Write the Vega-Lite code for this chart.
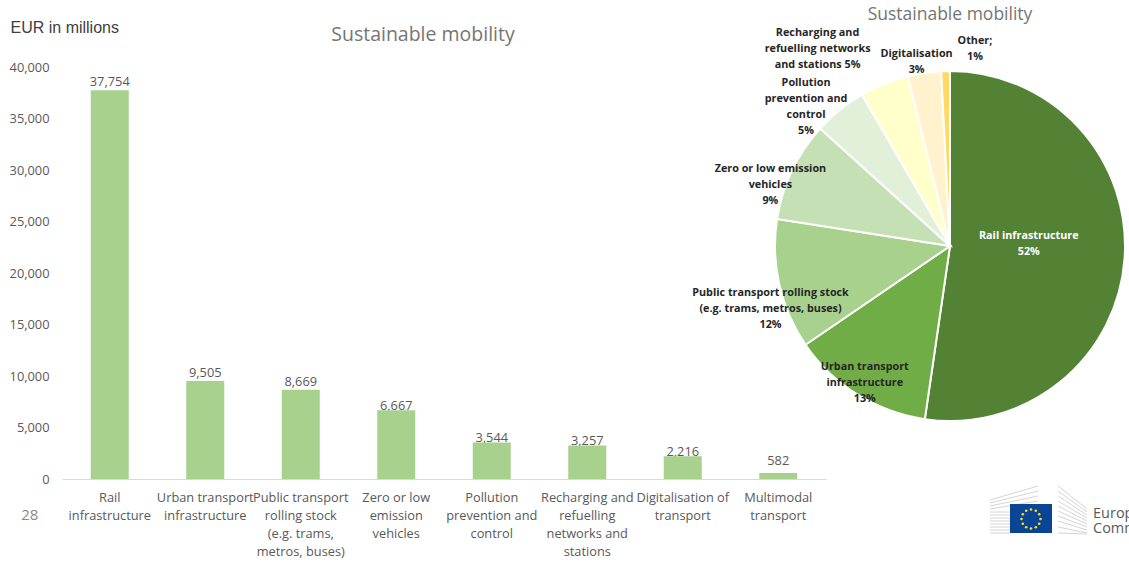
{
"$schema":"https://vega.github.io/schema/vega-lite/v6.json",
"padding":{"left":9,"top":6,"right":0,"bottom":0},
"background":"white",
"config":{"view":{"stroke":null},"font":"Open Sans"},
"datasets":{
"items":[
{"order":1,"category":"Rail\ninfrastructure","value":37754,"pie_label":"Rail infrastructure\n52%"},
{"order":2,"category":"Urban transport\ninfrastructure","value":9505,"pie_label":"Urban transport\ninfrastructure\n13%"},
{"order":3,"category":"Public transport\nrolling stock\n(e.g. trams,\nmetros, buses)","value":8669,"pie_label":"Public transport rolling stock\n(e.g. trams, metros, buses)\n12%"},
{"order":4,"category":"Zero or low\nemission\nvehicles","value":6667,"pie_label":"Zero or low emission\nvehicles\n9%"},
{"order":5,"category":"Pollution\nprevention and\ncontrol","value":3544,"pie_label":"Pollution\nprevention and\ncontrol\n5%"},
{"order":6,"category":"Recharging and\nrefuelling\nnetworks and\nstations","value":3257,"pie_label":"Recharging and\nrefuelling networks\nand stations 5%"},
{"order":7,"category":"Digitalisation of\ntransport","value":2216,"pie_label":"Digitalisation\n3%"},
{"order":8,"category":"Multimodal\ntransport","value":582,"pie_label":"Other;\n1%"}
],
"logo_lines":[
{"a":990,"b":500,"c":1038,"d":486},{"a":990,"b":503,"c":1038,"d":491},{"a":990,"b":506,"c":1038,"d":496},{"a":990,"b":509,"c":1038,"d":501},
{"a":990,"b":512,"c":1010,"d":512},{"a":990,"b":515,"c":1010,"d":515},{"a":990,"b":518,"c":1010,"d":518},{"a":990,"b":521,"c":1010,"d":521},{"a":990,"b":524,"c":1010,"d":524},{"a":990,"b":527,"c":1010,"d":527},{"a":990,"b":530,"c":1010,"d":530},{"a":990,"b":533,"c":1010,"d":533},
{"a":1058,"b":486,"c":1087,"d":509},{"a":1058,"b":491,"c":1087,"d":512},{"a":1058,"b":496,"c":1087,"d":515},{"a":1058,"b":501,"c":1087,"d":518},{"a":1058,"b":506,"c":1087,"d":521},{"a":1058,"b":511,"c":1087,"d":524},{"a":1058,"b":516,"c":1087,"d":527},{"a":1058,"b":521,"c":1087,"d":530},{"a":1058,"b":527,"c":1087,"d":533},{"a":1058,"b":533,"c":1087,"d":534}
],
"logo_stars":[
{"a":1031,"b":509.5},{"a":1035.8,"b":510.8},{"a":1039.2,"b":514.2},{"a":1040.5,"b":519},{"a":1039.2,"b":523.8},{"a":1035.8,"b":527.2},{"a":1031,"b":528.5},{"a":1026.2,"b":527.2},{"a":1022.8,"b":523.8},{"a":1021.5,"b":519},{"a":1022.8,"b":514.2},{"a":1026.2,"b":510.8}
]
},
"bounds":"flush",
"spacing":0,
"hconcat":[
{
"width":713,"height":412,
"data":{"name":"items"},
"title":{"text":"Sustainable mobility","fontSize":19.5,"fontWeight":"normal","color":"#757575","dx":4.5,"offset":-26,"font":"Open Sans"},
"encoding":{
"x":{"field":"category","type":"nominal","sort":null,"title":null,
"scale":{"range":[0,764],"paddingInner":0.602,"paddingOuter":0.301},
"axis":{"labelAngle":0,"labelExpr":"split(datum.label,'\\n')","labelLineHeight":18.3,"labelFontSize":12.8,"labelColor":"#595959","ticks":false,"domainColor":"#d9d9d9","labelPadding":12,"labelOverlap":false,"labelLimit":0,"labelFont":"Open Sans"}},
"y":{"field":"value","type":"quantitative","scale":{"domain":[0,40000],"nice":false},
"axis":{"values":[0,5000,10000,15000,20000,25000,30000,35000,40000],"labelExpr":"format(datum.value,',')","grid":false,"domain":false,"ticks":false,"labelFontSize":12.8,"labelColor":"#595959","labelPadding":13,"labelFont":"Open Sans","title":"EUR in millions","titleAngle":0,"titleFontSize":16,"titleFontWeight":"normal","titleColor":"#404040","titleFont":"Liberation Sans","titleAlign":"left","titleBaseline":"middle","titleX":-52,"titleY":-40}}
},
"layer":[
{"transform":[{"filter":"datum.value>6667"}],"mark":{"type":"text","dy":-8,"fontSize":12.8,"color":"#595959"},"encoding":{"text":{"field":"value","format":","}}},
{"transform":[{"filter":"datum.value<=6667 && datum.value!=582"}],"mark":{"type":"text","dy":-4,"fontSize":12.8,"color":"#595959"},"encoding":{"text":{"field":"value","format":","}}},
{"transform":[{"filter":"datum.value==582"}],"mark":{"type":"text","dy":-12,"fontSize":12.8,"color":"#595959"},"encoding":{"text":{"field":"value","format":","}}},
{"mark":{"type":"bar","color":"#a9d18e"}},
{"transform":[{"filter":"datum.order==1"}],"mark":{"type":"text","fontSize":15,"color":"#8a8a8a","dx":-80,"text":"28"},"encoding":{"y":{"datum":-3500,"type":"quantitative"}}}
]
},
{
"bounds":"flush",
"spacing":55,
"vconcat":[
{
"width":350,"height":358,
"data":{"name":"items"},
"title":{"text":"Sustainable mobility","fontSize":17.5,"fontWeight":"normal","color":"#757575","offset":3,"font":"Open Sans"},
"transform":[
{"stack":"value","sort":[{"field":"order","order":"ascending"}],"as":["start","end"],"groupby":[]},
{"calculate":"(datum.start+datum.end)/2","as":"mid"}
],
"encoding":{"theta":{"field":"mid","type":"quantitative","stack":false,"scale":{"domain":[0,72194]},"title":null}},
"layer":[
{"mark":{"type":"arc","outerRadius":175,"stroke":"white","strokeWidth":2},
"encoding":{"theta":{"field":"start","type":"quantitative","stack":false,"scale":{"domain":[0,72194]},"title":null},"theta2":{"field":"end"},
"color":{"field":"order","type":"ordinal","legend":null,"scale":{"domain":[1,2,3,4,5,6,7,8],"range":["#548235","#70ad47","#a9d18e","#c5e0b4","#e2efd9","#ffffcc","#fff2cc","#ffd966"]}}}},
{"transform":[{"filter":"datum.order==1"}],"mark":{"type":"text","radius":79,"dy":-16,"lineBreak":"\n","lineHeight":16,"fontSize":10.8,"fontWeight":"bold","color":"white"},"encoding":{"text":{"field":"pie_label"}}},
{"transform":[{"filter":"datum.order==2"}],"mark":{"type":"text","radius":161,"dy":-16,"lineBreak":"\n","lineHeight":16,"fontSize":10.8,"fontWeight":"bold","color":"#262626"},"encoding":{"text":{"field":"pie_label"}}},
{"transform":[{"filter":"datum.order==3"}],"mark":{"type":"text","radius":184,"dy":6,"lineBreak":"\n","lineHeight":16,"fontSize":10.8,"fontWeight":"bold","color":"#262626"},"encoding":{"text":{"field":"pie_label"}}},
{"transform":[{"filter":"datum.order==4"}],"mark":{"type":"text","radius":199,"dy":9,"lineBreak":"\n","lineHeight":16,"fontSize":10.8,"fontWeight":"bold","color":"#262626"},"encoding":{"text":{"field":"pie_label"}}},
{"transform":[{"filter":"datum.order==5"}],"mark":{"type":"text","radius":200,"dx":-18,"dy":-8,"lineBreak":"\n","lineHeight":16,"fontSize":10.8,"fontWeight":"bold","color":"#262626"},"encoding":{"text":{"field":"pie_label"}}},
{"transform":[{"filter":"datum.order==6"}],"mark":{"type":"text","radius":214,"dx":-52,"dy":-15,"lineBreak":"\n","lineHeight":16,"fontSize":10.8,"fontWeight":"bold","color":"#262626"},"encoding":{"text":{"field":"pie_label"}}},
{"transform":[{"filter":"datum.order==7"}],"mark":{"type":"text","radius":187,"dx":-6,"dy":-7,"lineBreak":"\n","lineHeight":16,"fontSize":10.8,"fontWeight":"bold","color":"#262626"},"encoding":{"text":{"field":"pie_label"}}},
{"transform":[{"filter":"datum.order==8"}],"mark":{"type":"text","radius":200,"dx":30,"dy":-5,"lineBreak":"\n","lineHeight":16,"fontSize":10.8,"fontWeight":"bold","color":"#262626"},"encoding":{"text":{"field":"pie_label"}}}
]
},
{
"width":354,"height":70,
"layer":[
{"data":{"name":"logo_lines"},"mark":{"type":"rule","color":"#d4d4d4","strokeWidth":1},
"encoding":{"x":{"field":"a","type":"quantitative","scale":{"domain":[775,1129],"nice":false,"zero":false},"axis":null},"x2":{"field":"c"},"y":{"field":"b","type":"quantitative","scale":{"domain":[550,480],"nice":false,"zero":false},"axis":null},"y2":{"field":"d"}}},
{"data":{"values":[{"a":1010,"c":1052,"b":504,"d":533}]},"mark":{"type":"rect","color":"#0a4595"},
"encoding":{"x":{"field":"a","type":"quantitative"},"x2":{"field":"c"},"y":{"field":"b","type":"quantitative"},"y2":{"field":"d"}}},
{"data":{"name":"logo_stars"},"mark":{"type":"point","shape":"circle","filled":true,"color":"#f5dc2a","size":7,"opacity":1},
"encoding":{"x":{"field":"a","type":"quantitative"},"y":{"field":"b","type":"quantitative"}}},
{"data":{"values":[{"a":1093,"b":514,"t":"European"},{"a":1093,"b":529,"t":"Commission"}]},"mark":{"type":"text","align":"left","fontSize":14.5,"color":"#595959","clip":true},
"encoding":{"x":{"field":"a","type":"quantitative"},"y":{"field":"b","type":"quantitative"},"text":{"field":"t"}}}
]
}
]
}
]
}
